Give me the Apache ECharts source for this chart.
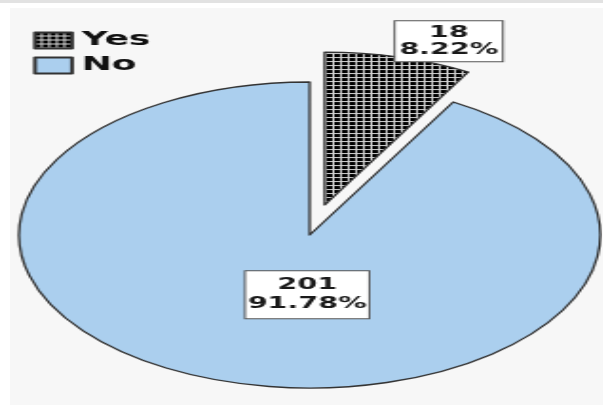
<!DOCTYPE html>
<html><head><meta charset="utf-8">
<script src="https://cdn.jsdelivr.net/npm/echarts@6/dist/echarts.min.js"></script>
<style>
html,body{margin:0;padding:0;width:603px;height:405px;overflow:hidden;background:#fff;}
#topline{position:absolute;left:0;top:0;width:603px;height:3px;background:#e2e2e2;}
#panel{position:absolute;left:10px;top:8px;width:593px;height:397px;background:#f7f7f7;}
#chart{position:absolute;left:0;top:0;width:317.37px;height:405px;transform:scaleX(1.9);transform-origin:0 0;}
</style></head><body>
<div id="topline"></div>
<div id="panel"></div>
<div id="chart"></div>
<script>
// Data
const categories = ['Yes', 'No'];
const counts = [18, 201];

// checkered pattern for "Yes"
function makePattern() {
  const c = document.createElement('canvas');
  c.width = 4; c.height = 4;
  const g = c.getContext('2d');
  g.fillStyle = '#000'; g.fillRect(0, 0, 4, 4);
  g.fillStyle = '#d4d4d4';
  g.fillRect(3, 0, 1, 4);
  g.fillRect(0, 3, 4, 1);
  return c;
}
const yesFill = { image: makePattern(), repeat: 'repeat' };
const noFill = '#abcfee';
const fills = [yesFill, noFill];

const labelOffsets = [[45, -87], [19, -17]];
const labelBoxes = [
  { padding: [3, 2, 3, 2], lineHeight: 17 },
  { padding: [5, 1, 4, 1], lineHeight: 19 }
];

const chart = echarts.init(document.getElementById('chart'), null, { renderer: 'canvas' });
const data = categories.map((name, i) => ({
  name: name,
  value: counts[i],
  selected: i === 0,
  itemStyle: { color: fills[i] },
  label: labelBoxes[i]
}));

chart.setOption({
  animation: false,
  backgroundColor: 'transparent',
  legend: {
    orient: 'vertical',
    left: 17.4,
    top: 31,
    padding: 0,
    itemWidth: 19.5,
    itemHeight: 16,
    itemGap: 6,
    icon: 'rect',
    selectedMode: false,
    data: categories,
    textStyle: { fontFamily: 'DejaVu Sans', fontWeight: 'bold', fontSize: 19, color: '#111' }
  },
  series: [{
    type: 'pie',
    center: ['51.41%', 235],
    radius: 153,
    startAngle: 90,
    clockwise: true,
    selectedMode: 'single',
    selectedOffset: 31,
    percentPrecision: 2,
    avoidLabelOverlap: false,
    itemStyle: { borderColor: '#333', borderWidth: 1.3 },
    label: {
      show: true,
      position: 'inside',
      formatter: '{c}\n{d}%',
      fontFamily: 'DejaVu Sans',
      fontWeight: 'bold',
      fontSize: 15,
      color: '#1a1a1a',
      backgroundColor: '#ffffff',
      borderColor: '#555',
      borderWidth: 1,
      align: 'center'
    },
    labelLine: { show: false },
    labelLayout: function (p) {
      const o = labelOffsets[p.dataIndex];
      return { dx: o[0], dy: o[1] };
    },
    emphasis: { disabled: true },
    data: data
  }]
});
</script>
</body></html>
